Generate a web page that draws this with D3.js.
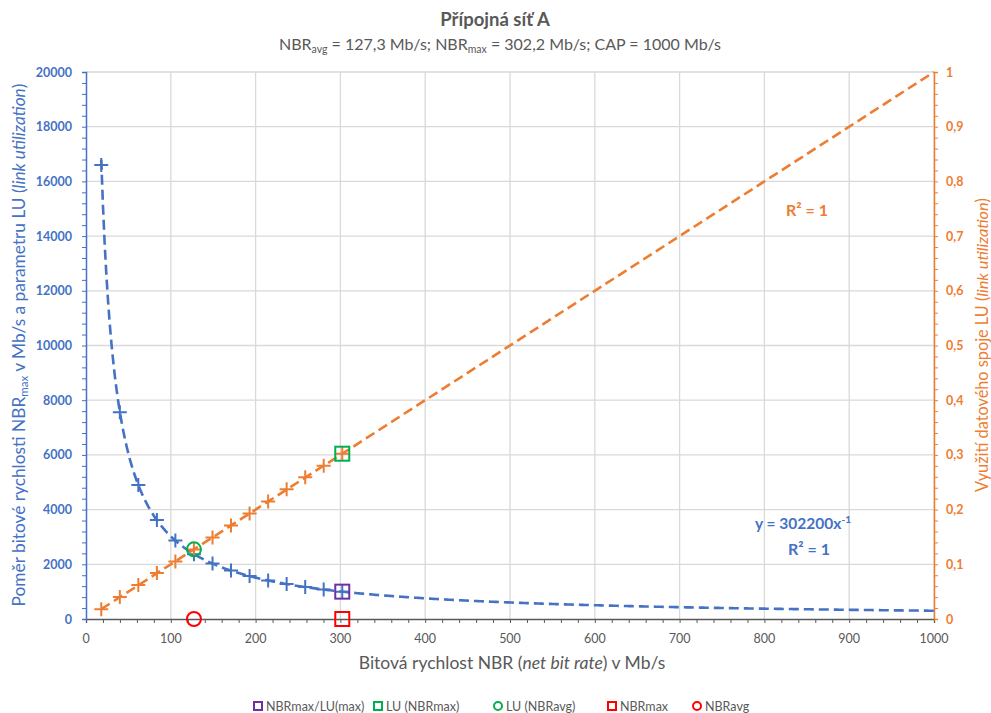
<!DOCTYPE html>
<html>
<head>
<meta charset="utf-8">
<script src="https://cdn.jsdelivr.net/npm/d3@7"></script>
<style>
  body { margin: 0; background: #fff; }
  svg { font-family: Lato, "Open Sans", sans-serif; }
</style>
</head>
<body>
<div id="chart"></div>
<script>
// values
var nbr   = [18, 39.9, 61.7, 83.6, 105.4, 127.3, 149.2, 171, 192.9, 214.8, 236.6, 258.5, 280.3, 302.2];
var ratio = [16600, 7560, 4900, 3620, 2870, 2370, 2030, 1770, 1570, 1410, 1280, 1170, 1080, 1000];
var lu    = [0.018, 0.040, 0.062, 0.084, 0.105, 0.127, 0.149, 0.171, 0.193, 0.215, 0.237, 0.259, 0.280, 0.302];

// trendline equations shown in the chart
var powerCoef = 302200, powerExp = -1;  // y = 302200 x^-1
var linSlope = 0.001;                   // LU = NBR / CAP
var trendEnd = 1000;

var xTicks  = [0, 100, 200, 300, 400, 500, 600, 700, 800, 900, 1000];
var yLTicks = [0, 2000, 4000, 6000, 8000, 10000, 12000, 14000, 16000, 18000, 20000];
var yRTicks = [0, 0.1, 0.2, 0.3, 0.4, 0.5, 0.6, 0.7, 0.8, 0.9, 1];

// highlighted points
var nbrAvg = 127.3, nbrMax = 302.2;
var specials = [
  {name: "NBRmax/LU(max)", shape: "square", color: "#7030A0", x: nbrMax, y: 1000,   axis: "L"},
  {name: "LU (NBRmax)",    shape: "square", color: "#00B050", x: nbrMax, y: 0.3022, axis: "R"},
  {name: "LU (NBRavg)",    shape: "circle", color: "#00B050", x: nbrAvg, y: 0.1273, axis: "R"},
  {name: "NBRmax",         shape: "square", color: "#FF0000", x: nbrMax, y: 0,      axis: "L"},
  {name: "NBRavg",         shape: "circle", color: "#FF0000", x: nbrAvg, y: 0,      axis: "L"}
];

var W = 991, H = 713;
var blue = "#4472C4", orange = "#ED7D31", grey = "#595959", grid = "#D9D9D9";

var svg = d3.select("#chart").append("svg").attr("width", W).attr("height", H);

var x  = d3.scaleLinear().domain([0, 1000]).range([86, 934]);
var yL = d3.scaleLinear().domain([0, 20000]).range([619, 72]);
var yR = d3.scaleLinear().domain([0, 1]).range([619, 72]);

// gridlines
svg.append("g").selectAll("line").data(xTicks.slice(1)).enter().append("line")
  .attr("x1", function(d){ return x(d); }).attr("x2", function(d){ return x(d); })
  .attr("y1", yL(0)).attr("y2", yL(20000))
  .attr("stroke", grid).attr("stroke-width", 1.3);
svg.append("g").selectAll("line").data(yLTicks.slice(1)).enter().append("line")
  .attr("x1", x(0)).attr("x2", x(1000))
  .attr("y1", function(d){ return yL(d); }).attr("y2", function(d){ return yL(d); })
  .attr("stroke", grid).attr("stroke-width", 1.3);

// axes
var fmtR = function(d){ return String(d).replace(".", ","); };

var gx = svg.append("g").attr("transform", "translate(0," + yL(0) + ")")
  .call(d3.axisBottom(x).tickValues(d3.range(0, 1001, 20)).tickSize(4).tickFormat(""));
gx.select(".domain").attr("stroke", grey).attr("stroke-width", 1.3);
gx.selectAll(".tick line").attr("stroke", grey);
svg.append("g").selectAll("text").data(xTicks).enter().append("text")
  .attr("x", function(d){ return x(d); }).attr("y", 643)
  .attr("text-anchor", "middle").attr("font-size", 12.5).attr("fill", grey)
  .text(function(d){ return d; });

var gl = svg.append("g").attr("transform", "translate(" + x(0) + ",0)")
  .call(d3.axisLeft(yL).tickValues(d3.range(0, 20001, 400)).tickSize(4).tickFormat(""));
gl.select(".domain").attr("stroke", blue).attr("stroke-width", 1.5);
gl.selectAll(".tick line").attr("stroke", blue);
svg.append("g").selectAll("text").data(yLTicks).enter().append("text")
  .attr("x", 72).attr("y", function(d){ return yL(d) + 4.5; })
  .attr("text-anchor", "end").attr("font-size", 12.5).attr("font-weight", "bold").attr("fill", blue)
  .text(function(d){ return d; });

var gr = svg.append("g").attr("transform", "translate(" + x(1000) + ",0)")
  .call(d3.axisRight(yR).tickValues(d3.range(0, 51).map(function(i){ return i / 50; })).tickSize(4).tickFormat(""));
gr.select(".domain").attr("stroke", orange).attr("stroke-width", 1.5);
gr.selectAll(".tick line").attr("stroke", orange);
svg.append("g").selectAll("text").data(yRTicks).enter().append("text")
  .attr("x", 946).attr("y", function(d){ return yR(d) + 4.5; })
  .attr("text-anchor", "start").attr("font-size", 12.5).attr("font-weight", "bold").attr("fill", orange)
  .text(fmtR);

// trendlines
var tx = d3.range(nbr[0], trendEnd + 0.01, 2);
svg.append("path")
  .attr("d", d3.line().x(function(d){ return x(d); }).y(function(d){ return yL(powerCoef * Math.pow(d, powerExp)); })(tx))
  .attr("fill", "none").attr("stroke", blue).attr("stroke-width", 2.6).attr("stroke-dasharray", "10,5");
svg.append("path")
  .attr("d", d3.line().x(function(d){ return x(d); }).y(function(d){ return yR(linSlope * d); })([nbr[0], trendEnd]))
  .attr("fill", "none").attr("stroke", orange).attr("stroke-width", 2.6).attr("stroke-dasharray", "10,5");

// plus markers
function plus(sel, color) {
  sel.append("path")
    .attr("d", "M-7,0H7M0,-7V7")
    .attr("stroke", color).attr("stroke-width", 2).attr("fill", "none");
}
svg.append("g").selectAll("g").data(nbr).enter().append("g")
  .attr("transform", function(d, i){ return "translate(" + x(d) + "," + yL(ratio[i]) + ")"; })
  .call(plus, blue);
svg.append("g").selectAll("g").data(nbr).enter().append("g")
  .attr("transform", function(d, i){ return "translate(" + x(d) + "," + yR(lu[i]) + ")"; })
  .call(plus, orange);

// highlighted markers
function marker(g, d, size) {
  if (d.shape === "square") {
    g.append("rect").attr("x", -size / 2).attr("y", -size / 2).attr("width", size).attr("height", size)
      .attr("fill", "none").attr("stroke", d.color).attr("stroke-width", 2);
  } else {
    g.append("circle").attr("r", size / 2)
      .attr("fill", "none").attr("stroke", d.color).attr("stroke-width", 2);
  }
}
specials.forEach(function(d){
  var g = svg.append("g").attr("transform", "translate(" + x(d.x) + "," + (d.axis === "L" ? yL(d.y) : yR(d.y)) + ")");
  marker(g, d, 14);
});

// trendline labels
svg.append("text").attr("x", 807).attr("y", 216).attr("text-anchor", "middle")
  .attr("font-size", 16).attr("font-weight", "bold").attr("fill", orange).text("R² = 1");
var eq = svg.append("text").attr("x", 803).attr("y", 529).attr("text-anchor", "middle")
  .attr("font-size", 15.5).attr("font-weight", "bold").attr("fill", blue);
eq.append("tspan").text("y = 302200x");
eq.append("tspan").attr("font-size", 10).attr("dy", -6).text("-1");
svg.append("text").attr("x", 809).attr("y", 555).attr("text-anchor", "middle")
  .attr("font-size", 16).attr("font-weight", "bold").attr("fill", blue).text("R² = 1");

// titles
svg.append("text").attr("x", 495).attr("y", 26).attr("text-anchor", "middle")
  .attr("font-size", 18.5).attr("font-weight", "bold").attr("fill", grey).text("Přípojná síť A");
var sub = svg.append("text").attr("x", 500).attr("y", 50).attr("text-anchor", "middle")
  .attr("font-size", 16).attr("fill", grey);
sub.append("tspan").text("NBR");
sub.append("tspan").attr("font-size", 10.5).attr("dy", 3).text("avg");
sub.append("tspan").attr("dy", -3).text(" = 127,3 Mb/s; NBR");
sub.append("tspan").attr("font-size", 10.5).attr("dy", 3).text("max");
sub.append("tspan").attr("dy", -3).text(" = 302,2 Mb/s; CAP = 1000 Mb/s");

var xt = svg.append("text").attr("x", 512).attr("y", 669).attr("text-anchor", "middle")
  .attr("font-size", 17.5).attr("fill", grey);
xt.append("tspan").text("Bitová rychlost NBR (");
xt.append("tspan").attr("font-style", "italic").text("net bit rate");
xt.append("tspan").text(") v Mb/s");

var lt = svg.append("text").attr("transform", "translate(25,345) rotate(-90)").attr("text-anchor", "middle")
  .attr("font-size", 17.3).attr("fill", blue);
lt.append("tspan").text("Poměr bitové rychlosti NBR");
lt.append("tspan").attr("font-size", 11.5).attr("dy", 3).text("max");
lt.append("tspan").attr("dy", -3).text(" v Mb/s a parametru LU (");
lt.append("tspan").attr("font-style", "italic").text("link utilization");
lt.append("tspan").text(")");

var rt = svg.append("text").attr("transform", "translate(988,345) rotate(-90)").attr("text-anchor", "middle")
  .attr("font-size", 16.3).attr("fill", orange);
rt.append("tspan").text("Využití datového spoje LU (");
rt.append("tspan").attr("font-style", "italic").text("link utilization");
rt.append("tspan").text(")");

// legend
var legX = [258, 378, 498, 612, 697];
specials.forEach(function(d, i){
  var g = svg.append("g").attr("transform", "translate(" + legX[i] + ",706)");
  marker(g, d, 8);
  g.append("text").attr("x", 8).attr("y", 4.5).attr("font-size", 12.5).attr("fill", grey).text(d.name);
});
</script>
</body>
</html>
